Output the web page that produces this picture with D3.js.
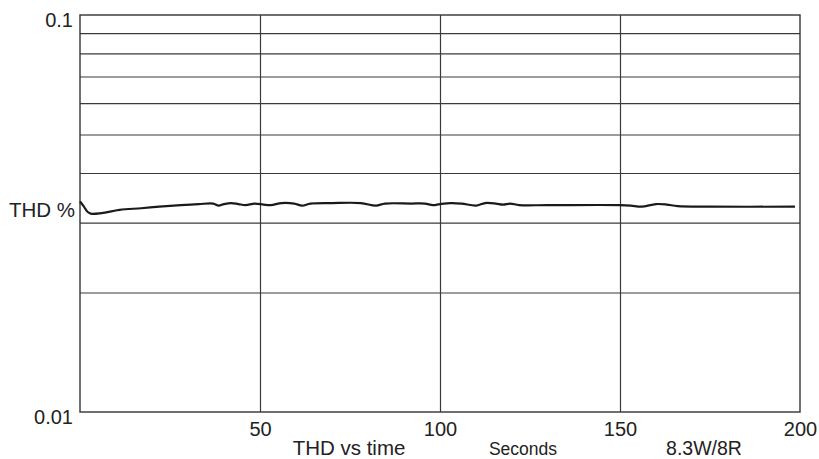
<!DOCTYPE html>
<html>
<head>
<meta charset="utf-8">
<script src="https://cdn.jsdelivr.net/npm/d3@7/dist/d3.min.js"></script>
<style>
  html, body { margin: 0; padding: 0; background: #fff; }
  svg { display: block; }
  text { font-family: "Liberation Sans", Arial, Helvetica, sans-serif; fill: #222; }
</style>
</head>
<body>
<svg id="chart" width="819" height="459"></svg>
<script>
// ---- data ----
const timeSec = [0, 1, 2, 3, 6, 11, 17, 22, 28, 33, 37, 38.5, 40, 42, 44, 46, 48.5, 51, 53, 56, 59.5, 61.7, 64, 70, 78, 82.2, 84.7, 92, 95.8, 98, 100, 103, 106, 110, 112.5, 115.5, 117.5, 119.5, 122, 130, 150, 153, 156, 160, 163, 166, 175, 198.6];
const thdPct = [0.0339, 0.0330, 0.0320, 0.0316, 0.0317, 0.0323, 0.0326, 0.0329, 0.0332, 0.0334, 0.0335, 0.0331, 0.0334, 0.0336, 0.0334, 0.0332, 0.0335, 0.0333, 0.0332, 0.0336, 0.0335, 0.0331, 0.0335, 0.0336, 0.0336, 0.0331, 0.0335, 0.0335, 0.0335, 0.0332, 0.0334, 0.0336, 0.0335, 0.0331, 0.0336, 0.0335, 0.0333, 0.0335, 0.0332, 0.0332, 0.0332, 0.0331, 0.0329, 0.0334, 0.0333, 0.0330, 0.0329, 0.0329];
const xTicks = [50, 100, 150, 200];
const xGrid = [50, 100, 150];
const yGrid = [0.02, 0.03, 0.04, 0.05, 0.06, 0.07, 0.08, 0.09];
const yLabels = [0.1, 0.01];
const yTitle = "THD %";
const bottomTexts = [
  { text: "THD vs time", x: 349, size: 20.5 },
  { text: "Seconds", x: 523, size: 17.5 },
  { text: "8.3W/8R", x: 704, size: 19.5 }
];

// ---- layout ----
const svg = d3.select("#chart");
const L = 80, R = 800, T = 15, B = 412;
const x = d3.scaleLinear().domain([0, 200]).range([L, R]);
const y = d3.scaleLog().domain([0.01, 0.1]).range([B, T]);

// horizontal grid
svg.append("g")
  .attr("transform", `translate(${L},0)`)
  .call(d3.axisLeft(y).tickValues(yGrid).tickSize(-(R - L)).tickFormat(""))
  .call(g => g.select(".domain").remove())
  .call(g => g.selectAll("line").attr("stroke", "#3a3a3a").attr("stroke-width", 1.2));

// vertical grid
svg.append("g")
  .attr("transform", `translate(0,${B})`)
  .call(d3.axisBottom(x).tickValues(xGrid).tickSize(-(B - T)).tickFormat(""))
  .call(g => g.select(".domain").remove())
  .call(g => g.selectAll("line").attr("stroke", "#3a3a3a").attr("stroke-width", 1.2));

// frame
svg.append("rect")
  .attr("x", L).attr("y", T).attr("width", R - L).attr("height", B - T)
  .attr("fill", "none").attr("stroke", "#333").attr("stroke-width", 1.4);

// x tick labels
svg.append("g")
  .attr("transform", `translate(0,${B})`)
  .call(d3.axisBottom(x).tickValues(xTicks).tickSize(0).tickPadding(0).tickFormat(d3.format("d")))
  .call(g => g.select(".domain").remove())
  .call(g => g.selectAll("text")
    .attr("y", 24).attr("dy", 0)
    .style("font-size", "20px")
    .style("font-family", '"Liberation Sans", Arial, sans-serif')
    .attr("fill", "#222"));

// y labels
svg.append("g")
  .attr("transform", `translate(${L},0)`)
  .call(d3.axisLeft(y).tickValues(yLabels).tickSize(0).tickPadding(7).tickFormat(d3.format("")))
  .call(g => g.select(".domain").remove())
  .call(g => g.selectAll("text")
    .attr("dy", "0.55em")
    .style("font-size", "20px")
    .style("font-family", '"Liberation Sans", Arial, sans-serif')
    .attr("fill", "#222"));

// y title
svg.append("text")
  .attr("x", L - 5).attr("y", 217)
  .attr("text-anchor", "end")
  .style("font-size", "20.5px")
  .text(yTitle);

// bottom texts
svg.selectAll("text.bt").data(bottomTexts).join("text")
  .attr("class", "bt")
  .attr("x", d => d.x).attr("y", 455)
  .attr("text-anchor", "middle")
  .style("font-size", d => d.size + "px")
  .text(d => d.text);

// data line
const data = timeSec.map((t, i) => ({ t, v: thdPct[i] }));
svg.append("path")
  .datum(data)
  .attr("fill", "none")
  .attr("stroke", "#1a1a1a")
  .attr("stroke-width", 2.2)
  .attr("stroke-linejoin", "round")
  .attr("d", d3.line().x(d => x(d.t)).y(d => y(d.v)).curve(d3.curveCatmullRom.alpha(0.5)));
</script>
</body>
</html>
